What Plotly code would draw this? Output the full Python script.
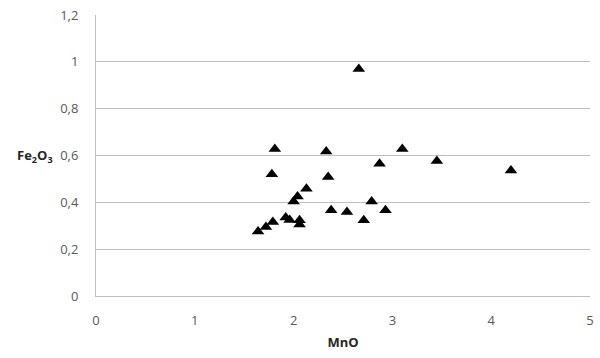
import plotly.graph_objects as go

mno = [1.64, 1.72, 1.79, 1.92, 1.96, 2.06, 2.06, 2.00, 2.04, 2.13,
       1.78, 1.81, 2.33, 2.35, 2.38, 2.54, 2.71, 2.79, 2.93, 2.87,
       3.10, 3.45, 4.20, 2.66]
fe2o3 = [0.275, 0.295, 0.316, 0.335, 0.325, 0.323, 0.305, 0.404, 0.425, 0.458,
         0.520, 0.628, 0.617, 0.508, 0.366, 0.359, 0.323, 0.404, 0.366, 0.565,
         0.628, 0.576, 0.536, 0.969]

x_ticks = [0, 1, 2, 3, 4, 5]
y_ticks = [0, 0.2, 0.4, 0.6, 0.8, 1, 1.2]

fig = go.Figure()
fig.add_trace(go.Scatter(
    x=mno, y=fe2o3, mode="markers",
    marker=dict(symbol="triangle-up", size=11, color="black"),
    showlegend=False,
))

font_family = "Open Sans, Liberation Sans, sans-serif"
fig.update_layout(
    width=600, height=358,
    margin=dict(l=96, r=6, t=14, b=62),
    paper_bgcolor="white", plot_bgcolor="white",
    separators=",.",
    font=dict(family=font_family, size=13, color="#595959"),
    xaxis=dict(
        range=[0, 5], tickvals=x_ticks, showgrid=False,
        showline=True, linecolor="#bfbfbf", linewidth=1, mirror=False,
        ticks="outside", ticklen=12, tickcolor="rgba(0,0,0,0)",
        zeroline=False,
        title=dict(text="<b>MnO</b>", font=dict(size=13, color="#262626"), standoff=10),
    ),
    yaxis=dict(
        range=[0, 1.2], tickvals=y_ticks, showgrid=True, gridcolor="#bfbfbf",
        showline=True, linecolor="#bfbfbf", linewidth=1,
        ticks="outside", ticklen=14, tickcolor="rgba(0,0,0,0)",
        zeroline=False,
    ),
)
fig.add_annotation(
    text="<b>Fe<sub>2</sub>O<sub>3</sub></b>", xref="paper", yref="y",
    x=-0.084, y=0.6, xanchor="right", yanchor="middle", showarrow=False,
    font=dict(size=13, color="#262626", family=font_family),
)
fig.write_html(
    "out.html",
    config={"displayModeBar": False},
    post_script="document.body.style.margin='0';document.body.style.overflow='hidden';",
)
